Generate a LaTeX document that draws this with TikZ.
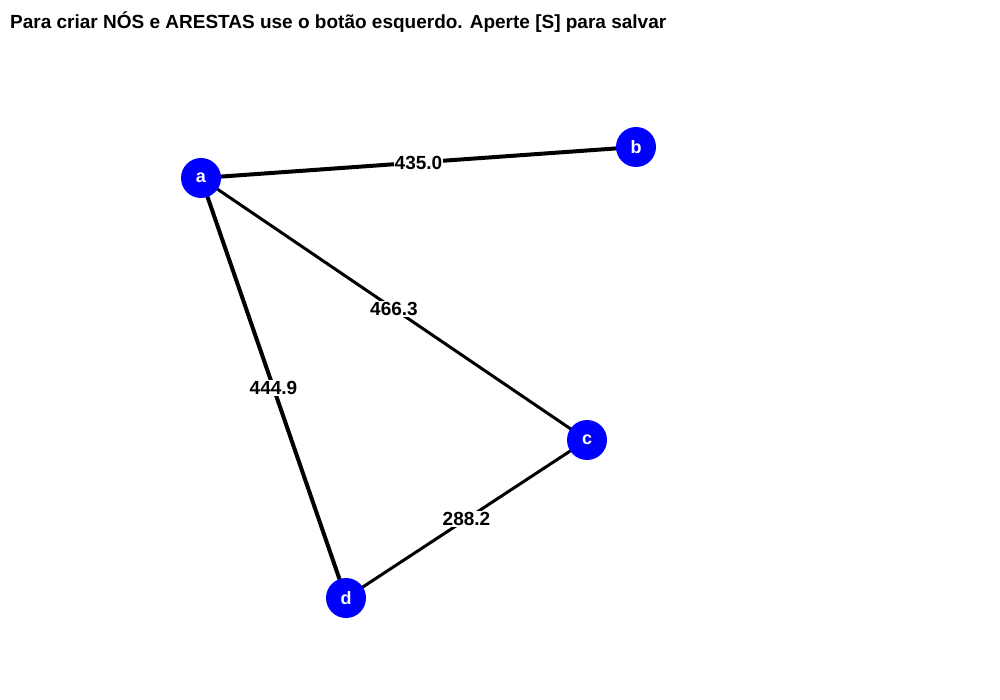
\documentclass[tikz,border=0pt]{standalone}
\usepackage{fontspec}
\setmainfont{Liberation Sans}
\begin{document}
\begin{tikzpicture}[x=1pt,y=-1pt,
  vert/.style={circle,fill=blue,minimum size=40pt,inner sep=0pt,text=white,font=\fontsize{18}{18}\selectfont\bfseries},
  edgelbl/.style={fill=white,inner sep=1pt,font=\fontsize{19}{19}\selectfont\bfseries},
  thick4/.style={line width=4pt},
  thick3/.style={line width=3pt}]
\useasboundingbox (0,0) rectangle (1000,700);
\node[anchor=base west,inner sep=0pt,font=\fontsize{19}{19}\selectfont\bfseries] (title) at (10,29) {Para criar NÓS e ARESTAS use o botão esquerdo. Aperte [S] para salvar};
\coordinate (pa) at (201,178);
\coordinate (pb) at (636,147);
\coordinate (pc) at (587,440);
\coordinate (pd) at (346,598);
\draw[thick4] (pa) -- node[edgelbl,pos=0.5] {435.0} (pb);
\draw[thick3] (pa) -- node[edgelbl,pos=0.5] {466.3} (pc);
\draw[thick4] (pa) -- node[edgelbl,pos=0.5] {444.9} (pd);
\draw[thick3] (pc) -- node[edgelbl,pos=0.5] {288.2} (pd);
\node[vert] (a) at (pa) {a};
\node[vert] (b) at (pb) {b};
\node[vert] (c) at (pc) {c};
\node[vert] (d) at (pd) {d};
\end{tikzpicture}
\end{document}
